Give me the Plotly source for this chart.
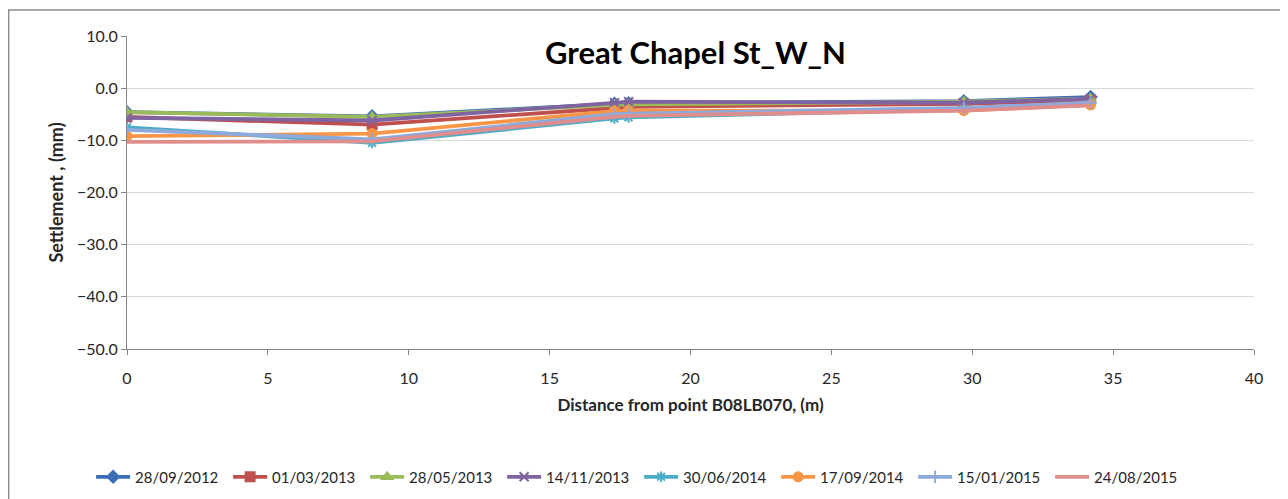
import plotly.graph_objects as go

# survey dates and their settlement profiles (mm)
distance = [0, 8.7, 17.3, 17.8, 29.7, 34.2]
dates = ['28/09/2012', '01/03/2013', '28/05/2013', '14/11/2013',
         '30/06/2014', '17/09/2014', '15/01/2015', '24/08/2015']

s_28_09_2012 = [-4.6, -5.4, -3.0, -2.9, -2.5, -1.7]
s_01_03_2013 = [-5.5, -7.0, -3.8, -3.6, -3.0, -2.3]
s_28_05_2013 = [-4.6, -5.5, -3.2, -3.1, -2.6, -2.0]
s_14_11_2013 = [-5.7, -6.2, -2.8, -2.6, -2.8, -2.0]
s_30_06_2014 = [-7.5, -10.5, -5.8, -5.6, -4.0, -3.2]
s_17_09_2014 = [-9.2, -8.7, -4.4, -4.3, -4.3, -3.2]
s_15_01_2015 = [-8.0, -9.8, -5.0, -4.9, -3.8, -2.8]
s_24_08_2015 = [-10.3, -10.2, -5.5, -5.3, -4.3, -3.3]

series = [s_28_09_2012, s_01_03_2013, s_28_05_2013, s_14_11_2013,
          s_30_06_2014, s_17_09_2014, s_15_01_2015, s_24_08_2015]

colors = ['#3D6FB6', '#C0504D', '#9BBB59', '#8064A2',
          '#4BACC6', '#F79646', '#8EA9DB', '#E08E8C']
symbols = ['diamond', 'square', 'triangle-up', 'x-thin-open',
           'asterisk-open', 'circle', 'cross-thin-open', None]

FONT = 'Lato'

fig = go.Figure()
for name, vals, col, sym in zip(dates, series, colors, symbols):
    if sym is None:
        mode = 'lines'
        marker = dict()
    else:
        mode = 'lines+markers'
        marker = dict(symbol=sym, size=9, color=col, line=dict(color=col, width=2))
    fig.add_trace(go.Scatter(x=distance, y=vals, name=name, mode=mode,
                             line=dict(color=col, width=3.8), marker=marker))

# page body has an 8px margin, so the margins are shifted by that
fig.update_layout(
    width=1288, height=499,
    paper_bgcolor='white', plot_bgcolor='white',
    margin=dict(l=119, r=42, t=28, b=158, autoexpand=False),
    font=dict(family=FONT, size=16, color='#262626'),
    showlegend=True,
    legend=dict(orientation='h', xref='container', x=0.49, xanchor='center',
                yref='container', y=0.06, yanchor='middle',
                font=dict(size=15), itemwidth=34, tracegroupgap=0,
                entrywidth=88, entrywidthmode='pixels'),
    xaxis=dict(range=[0, 40], dtick=5, showgrid=False, zeroline=False,
               showline=True, linecolor='#868686', linewidth=1,
               ticks='outside', ticklen=5, tickcolor='#868686', ticklabelstandoff=10,
               title=dict(text='<b>Distance from point B08LB070, (m)</b>',
                          font=dict(size=17), standoff=12)),
    yaxis=dict(range=[-50, 10], dtick=10, tickformat='.1f',
               showgrid=True, gridcolor='#D9D9D9', zeroline=False,
               showline=True, linecolor='#868686', linewidth=1,
               ticks='outside', ticklen=5, tickcolor='#868686',
               title=dict(text='<b>Settlement , (mm)</b>', font=dict(size=18), standoff=8)),
    annotations=[
        dict(text='<b>Great Chapel St_W_N</b>', x=0.504, y=0.95, xref='paper', yref='paper',
             showarrow=False, font=dict(size=31, family=FONT, color='black'),
             xanchor='center', yanchor='middle'),
    ],
    shapes=[
        dict(type='rect', xref='paper', yref='paper', x0=-0.105, x1=1.1, y0=-0.6, y1=1.083,
             line=dict(color='#8C8C8C', width=1.5), layer='below'),
    ],
)

fig.write_html('out.html')
